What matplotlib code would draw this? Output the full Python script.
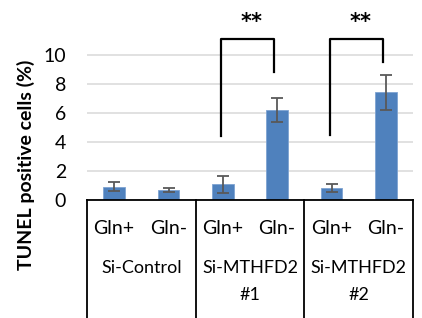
import matplotlib
matplotlib.use("Agg")
import matplotlib.pyplot as plt
import numpy as np

# data
conditions = ["Gln+", "Gln-", "Gln+", "Gln-", "Gln+", "Gln-"]
groups = ["Si-Control", "Si-MTHFD2\n#1", "Si-MTHFD2\n#2"]
values = [0.92, 0.69, 1.08, 6.2, 0.8, 7.43]
errors = [0.32, 0.17, 0.59, 0.82, 0.27, 1.22]
yticks = [0, 2, 4, 6, 8, 10]

# significance brackets: (left bar, right bar), leg bottoms, label
sig_pairs = [(2, 3), (4, 5)]
sig_left_ends = [4.4, 4.5]
sig_right_ends = [8.8, 9.5]
sig_top = 11.1
sig_labels = ["**", "**"]

plt.rcParams['font.family'] = ['Lato', 'DejaVu Sans']

W, H = 422, 318
fig = plt.figure(figsize=(W / 100, H / 100), dpi=100)
x0, x1, y_axis = 87, 413, 200
ax = fig.add_axes([x0 / W, (H - y_axis) / H, (x1 - x0) / W, y_axis / H])

x = np.arange(len(values))
ax.bar(x, values, width=0.4, color='#4f81bd', edgecolor='#7ea3d2', linewidth=0.6, zorder=3)
ax.errorbar(x, values, yerr=errors, fmt='none', ecolor='#595959', elinewidth=1.3,
            capsize=4, capthick=1.3, zorder=4)

ax.set_xlim(-0.5, len(values) - 0.5)
ax.set_ylim(0, y_axis / 14.5)
ax.set_yticks(yticks)
ax.set_yticklabels([str(t) for t in yticks], fontsize=14)
ax.tick_params(axis='y', length=0, pad=15)
ax.set_xticks([])
ax.grid(axis='y', color='#d9d9d9', linewidth=1.1, zorder=0)
for s in ['top', 'right', 'left']:
    ax.spines[s].set_visible(False)
ax.spines['bottom'].set_color('black')
ax.spines['bottom'].set_linewidth(1.3)
ax.spines['bottom'].set_zorder(5)

# brackets
for (a, b), lo_a, lo_b, lab in zip(sig_pairs, sig_left_ends, sig_right_ends, sig_labels):
    xa, xb = a - 0.03, b - 0.06
    ax.plot([xa, xa, xb, xb], [lo_a, sig_top, sig_top, lo_b], color='black', lw=1.6,
            clip_on=False, zorder=6)
    ax.text((xa + xb) / 2 + 0.08, 12.3, lab, ha='center', va='center', fontsize=15,
            fontweight='bold', family='DejaVu Sans', clip_on=False)

# multi-level category axis
tr = ax.get_xaxis_transform()
def ay(py):
    return (y_axis - py) / y_axis

for xi, c in zip(x, conditions):
    ax.text(xi, ay(229), c, transform=tr, ha='center', va='center', fontsize=14)
for gi, g in enumerate(groups):
    center = gi * 2 + 0.5
    for li, line in enumerate(g.split("\n")):
        ax.text(center, ay(268 + 27 * li), line, transform=tr, ha='center', va='center',
                fontsize=13)
for b in [-0.5, 1.5, 3.5, 5.5]:
    ax.plot([b, b], [0, ay(H + 2)], transform=tr, color='black', lw=1.3, clip_on=False)

fig.text(26 / W, 1 - 165 / H, "TUNEL positive cells (%)", rotation=90, ha='center',
         va='center', fontsize=14, fontweight='bold')

fig.savefig("out.png", dpi=100)
